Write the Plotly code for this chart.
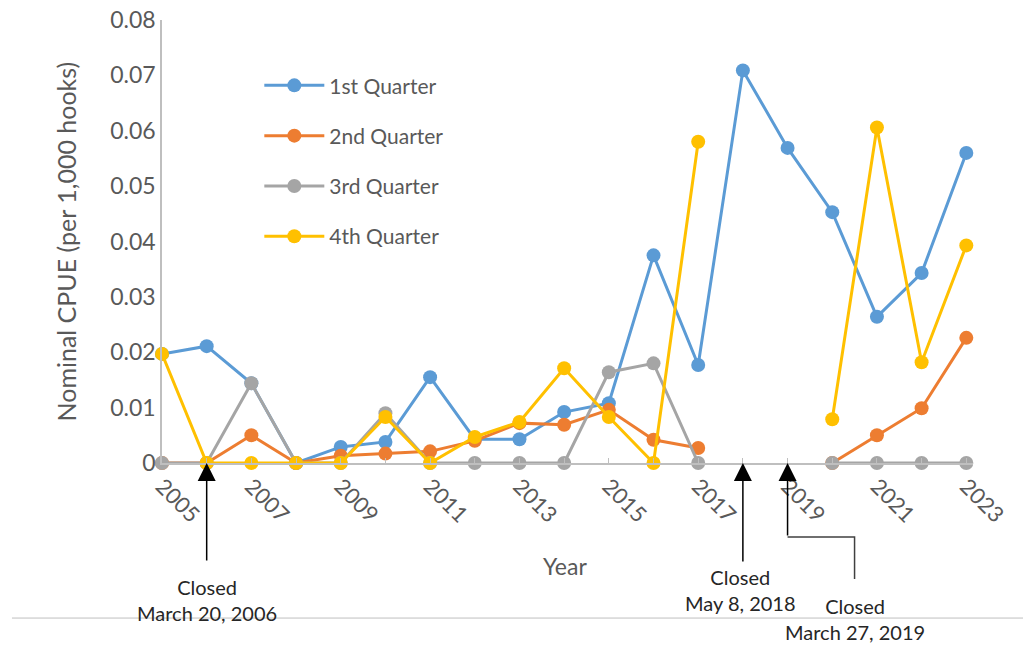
import plotly.graph_objects as go

years = list(range(2005, 2024))
q1 = [0.0197, 0.0211, 0.0144, 0.0, 0.0029, 0.0038, 0.0155, 0.0043, 0.0043, 0.0092,
      0.0108, 0.0375, 0.0177, 0.0709, 0.0569, 0.0453, 0.0264, 0.0343, 0.0560]
q2 = [0.0, 0.0, 0.0050, 0.0, 0.0013, 0.0017, 0.0021, 0.0040, 0.0072, 0.0069,
      0.0096, 0.0042, 0.0027, None, None, 0.0, 0.0050, 0.0099, 0.0226]
q3 = [0.0, 0.0, 0.0144, 0.0, 0.0, 0.0090, 0.0, 0.0, 0.0, 0.0,
      0.0164, 0.0180, 0.0, None, None, 0.0, 0.0, 0.0, 0.0]
q4 = [0.0197, 0.0, 0.0, 0.0, 0.0, 0.0083, 0.0, 0.0047, 0.0074, 0.0171,
      0.0083, 0.0, 0.0580, None, None, 0.0079, 0.0606, 0.0182, 0.0393]

series_names = ["1st Quarter", "2nd Quarter", "3rd Quarter", "4th Quarter"]
series_values = [q1, q2, q3, q4]
series_colors = ["#5B9BD5", "#ED7D31", "#A5A5A5", "#FFC000"]

tick_years = list(range(2005, 2024, 2))
y_ticks = [0, 0.01, 0.02, 0.03, 0.04, 0.05, 0.06, 0.07, 0.08]

closure_years = [2006, 2018, 2019]
closure_labels = ["Closed<br>March 20, 2006", "Closed<br>May 8, 2018", "Closed<br>March 27, 2019"]

FONT = "Lato"
TXT = "#595959"

fig = go.Figure()
for name, vals, col in zip(series_names, series_values, series_colors):
    fig.add_trace(go.Scatter(
        x=years, y=vals, name=name, mode="lines+markers",
        line=dict(color=col, width=3),
        marker=dict(color=col, size=14),
        connectgaps=False, cliponaxis=False, legendgroup=name,
    ))

annotations = []
shapes = []
# arrows
arrow_tails = [99, 100, 74]
for yr, tail in zip(closure_years, arrow_tails):
    annotations.append(dict(
        x=yr, y=0, xref="x", yref="y", ax=0, ay=tail, axref="pixel", ayref="pixel",
        text="", showarrow=True, arrowhead=2, arrowsize=2.4, arrowwidth=1.5,
        arrowcolor="#000000", standoff=0,
    ))
# elbow for third arrow
shapes.append(dict(
    type="path", xref="x", yref="paper", xsizemode="pixel", ysizemode="pixel",
    xanchor=closure_years[2], yanchor=0, path="M0,-74 L67,-74 L67,-116",
    line=dict(color="#404040", width=1.5),
))
# labels
label_offsets = [(0, -137), (-2, -127), (67, -156)]
for yr, lab, (dx, dy) in zip(closure_years, closure_labels, label_offsets):
    annotations.append(dict(
        x=yr, y=0, xref="x", yref="y", xshift=dx, yshift=dy, text=lab,
        showarrow=False, xanchor="center", yanchor="middle",
        font=dict(family=FONT, size=20, color="#262626"),
    ))
# axis titles
annotations.append(dict(
    x=0, y=0.5, xref="paper", yref="paper", xshift=-97, text="Nominal CPUE (per 1,000 hooks)",
    textangle=-90, showarrow=False, xanchor="center", yanchor="middle",
    font=dict(family=FONT, size=25, color=TXT),
))
annotations.append(dict(
    x=0.497, y=0, xref="paper", yref="y", yshift=-103, text="Year",
    showarrow=False, xanchor="center", yanchor="middle",
    font=dict(family=FONT, size=23, color=TXT),
))
# bottom separator line
shapes.append(dict(
    type="line", xref="paper", yref="paper", x0=-0.185, x1=1.072, y0=-0.35, y1=-0.35,
    line=dict(color="#BFBFBF", width=1),
))

# page body adds an 8px margin, so the figure is sized/offset to compensate
fig.update_layout(
    width=1023, height=637,
    margin=dict(l=154, r=58, t=12, b=182, autoexpand=False),
    plot_bgcolor="white", paper_bgcolor="white",
    font=dict(family=FONT, color=TXT),
    showlegend=True,
    legend=dict(
        x=0.12, y=0.898, xanchor="left", yanchor="top",
        bgcolor="rgba(0,0,0,0)", font=dict(family=FONT, size=21, color=TXT),
        tracegroupgap=20, itemwidth=60,
    ),
    annotations=annotations,
    shapes=shapes,
    xaxis=dict(
        range=[2005, 2023.15], tickvals=tick_years, ticktext=[str(t) for t in tick_years],
        tickangle=45, ticks="inside", ticklen=5, tickcolor="#BFBFBF",
        minor=dict(ticks="inside", dtick=1, tick0=2005, ticklen=5, tickcolor="#BFBFBF"),
        showline=True, linecolor="#BFBFBF", linewidth=1.5,
        showgrid=False, zeroline=False, automargin=False, ticklabeloverflow="allow",
        tickfont=dict(family=FONT, size=22, color=TXT),
    ),
    yaxis=dict(
        range=[0, 0.08], tickvals=y_ticks, ticktext=["0" if v == 0 else f"{v:.2f}" for v in y_ticks],
        showline=True, linecolor="#BFBFBF", linewidth=1.5,
        showgrid=False, zeroline=False, ticks="", automargin=False, ticklabeloverflow="allow",
        tickfont=dict(family=FONT, size=23, color=TXT),
    ),
)

fig.write_html("out.html")
